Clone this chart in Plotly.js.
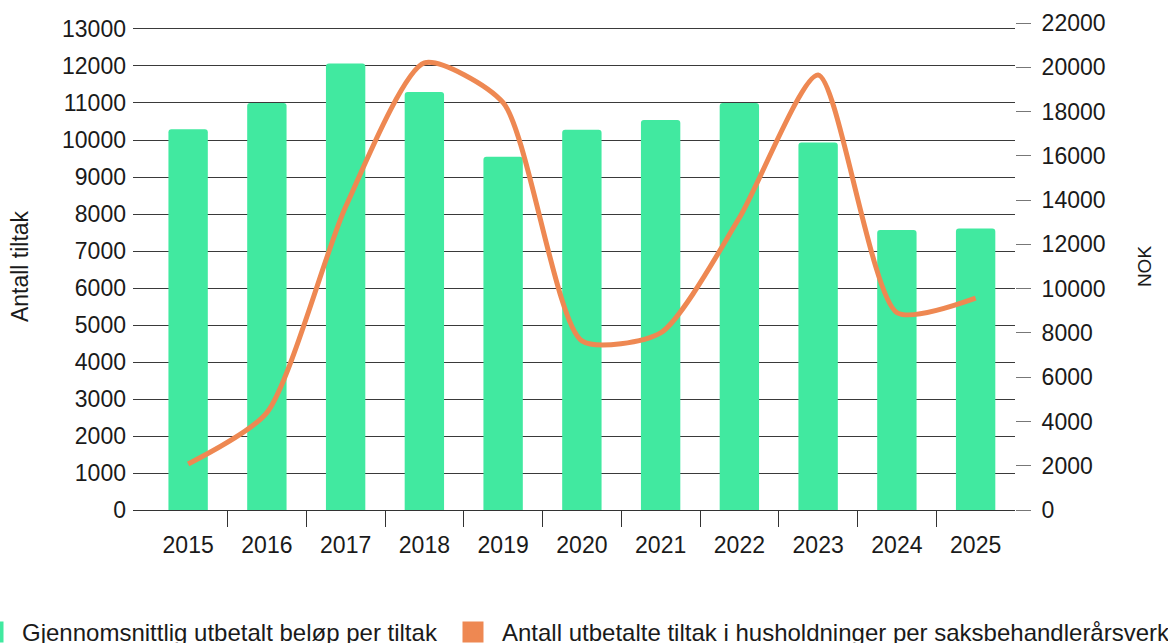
<!DOCTYPE html>
<html>
<head>
<meta charset="utf-8">
<script src="https://cdn.plot.ly/plotly-3.0.1.min.js"></script>
<style>html,body{margin:0;padding:0;background:#fff;}#chart{width:1168px;height:643px;}</style>
</head>
<body>
<div id="chart"></div>
<script>
// ---- Data ----
const years = ['2015','2016','2017','2018','2019','2020','2021','2022','2023','2024','2025'];
const antallTiltak = [10290, 11000, 12070, 11300, 9550, 10280, 10540, 11000, 9930, 7570, 7610];
const nokLine = [2080, 4400, 13700, 20200, 18400, 7640, 8000, 13200, 19650, 8920, 9570];
const leftTicks = [0,1000,2000,3000,4000,5000,6000,7000,8000,9000,10000,11000,12000,13000];
const rightTicks = [0,2000,4000,6000,8000,10000,12000,14000,16000,18000,20000,22000];
const legendNames = ['Gjennomsnittlig utbetalt beløp per tiltak',
                     'Antall utbetalte tiltak i husholdninger per saksbehandlerårsverk'];
const leftTitle = 'Antall tiltak';
const rightTitle = 'NOK';

const GREEN = '#41e9a0';
const ORANGE = '#ee8852';
const FONT = 'Liberation Sans, Arial, sans-serif';
const TXT = '#1a1a1a';

const pos = years.map((_, i) => i);
const bounds = years.slice(1).map((_, i) => i + 0.5);

const traces = [
  {
    type: 'bar', x: pos, y: antallTiltak, xaxis: 'x', yaxis: 'y',
    width: 0.5, marker: {color: GREEN, cornerradius: 3},
    showlegend: false, hoverinfo: 'x+y'
  },
  {
    type: 'scatter', mode: 'lines', x: pos, y: nokLine, xaxis: 'x', yaxis: 'y2',
    line: {color: ORANGE, width: 5, shape: 'spline', smoothing: 0.65},
    showlegend: false
  },
  {
    type: 'scatter', mode: 'markers', x: [null], y: [null], xaxis: 'x3', yaxis: 'y',
    name: legendNames[0], legend: 'legend',
    marker: {symbol: 'square', size: 16, color: GREEN, line: {color: GREEN, width: 5}}
  },
  {
    type: 'scatter', mode: 'markers', x: [null], y: [null], xaxis: 'x3', yaxis: 'y',
    name: legendNames[1], legend: 'legend2',
    marker: {symbol: 'square', size: 16, color: ORANGE, line: {color: ORANGE, width: 5}}
  }
];

const legendBase = {
  orientation: 'h', xanchor: 'left', y: -0.205, yanchor: 'top',
  itemwidth: 48, font: {family: FONT, size: 24, color: TXT},
  bgcolor: 'rgba(0,0,0,0)', borderwidth: 0
};

const xr = [-0.7, 10.5];
const layout = {
  width: 1168, height: 643,
  margin: {l: 133, r: 153, t: 23, b: 133, autoexpand: false},
  paper_bgcolor: '#ffffff', plot_bgcolor: '#ffffff',
  font: {family: FONT, size: 23, color: TXT},
  showlegend: true,
  legend: Object.assign({}, legendBase, {x: -0.1916}),
  legend2: Object.assign({}, legendBase, {x: 0.3526}),
  xaxis: {
    range: xr, tickmode: 'array', tickvals: pos, ticktext: years,
    ticks: 'outside', ticklen: 14, tickcolor: 'rgba(0,0,0,0)',
    showgrid: false, zeroline: false, showline: true, linecolor: '#333', linewidth: 1,
    tickfont: {family: FONT, size: 23, color: TXT}, fixedrange: true
  },
  xaxis3: {
    overlaying: 'x', anchor: 'y', range: xr, tickmode: 'array', tickvals: bounds,
    ticks: 'outside', ticklen: 16, tickcolor: '#333', tickwidth: 1,
    showticklabels: false, showgrid: false, zeroline: false, showline: false
  },
  yaxis: {
    range: [0, 13162], tickmode: 'array', tickvals: leftTicks,
    tickformat: 'd', ticks: '', ticklabelstandoff: 6,
    showgrid: true, gridcolor: '#3a3a3a', gridwidth: 1, zeroline: false, showline: false,
    tickfont: {family: FONT, size: 23, color: TXT},
    title: {text: leftTitle, font: {family: FONT, size: 23, color: TXT}, standoff: 26}
  },
  yaxis2: {
    overlaying: 'y', side: 'right', anchor: 'x', range: [0, 22000],
    tickmode: 'array', tickvals: rightTicks, tickformat: 'd',
    ticks: 'outside', ticklen: 15, tickcolor: '#777', tickwidth: 1, ticklabelstandoff: 6,
    showgrid: false, zeroline: false, showline: false,
    tickfont: {family: FONT, size: 23, color: TXT},
    title: {text: rightTitle, font: {family: FONT, size: 19, color: TXT}, standoff: 33}
  }
};

Plotly.newPlot('chart', traces, layout, {displayModeBar: false, responsive: false, staticPlot: true});
</script>
</body>
</html>
